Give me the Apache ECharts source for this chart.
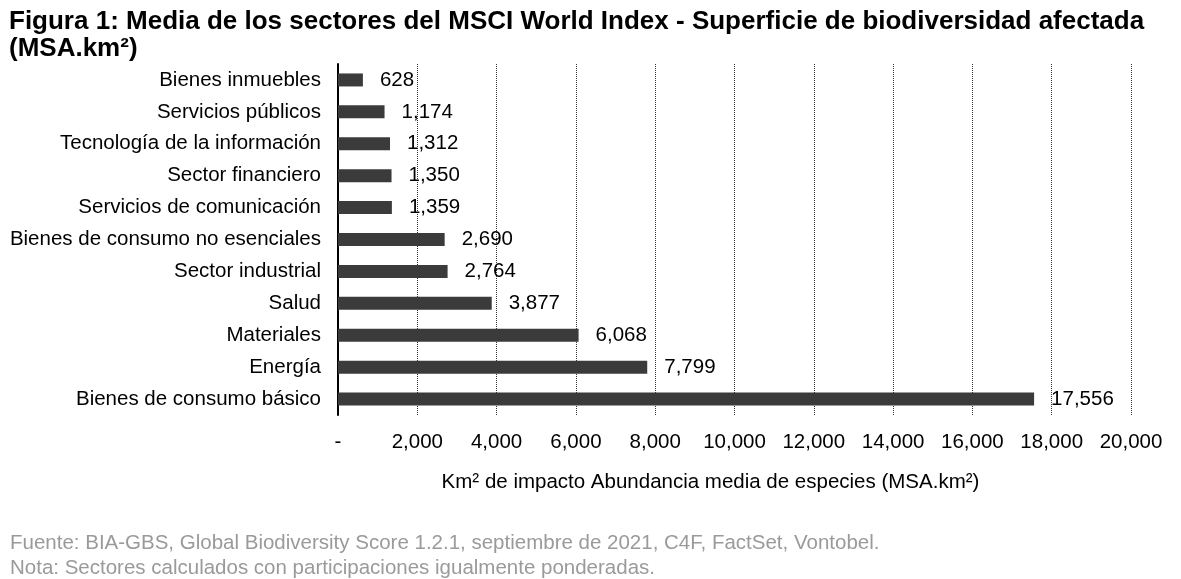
<!DOCTYPE html>
<html><head><meta charset="utf-8">
<script src="https://cdn.jsdelivr.net/npm/echarts@6/dist/echarts.min.js"></script>
<style>html,body{margin:0;padding:0;background:#fff}#c{width:1181px;height:579px}</style>
</head><body><div id="c"></div>
<script>
const categories = ["Bienes de consumo básico","Energía","Materiales","Salud","Sector industrial","Bienes de consumo no esenciales","Servicios de comunicación","Sector financiero","Tecnología de la información","Servicios públicos","Bienes inmuebles"];
const values = [17556,7799,6068,3877,2764,2690,1359,1350,1312,1174,628];
const titleText = "Figura 1: Media de los sectores del MSCI World Index - Superficie de biodiversidad afectada\n(MSA.km²)";
const axisName = "Km² de impacto Abundancia media de especies (MSA.km²)";
const footer1 = "Fuente: BIA-GBS, Global Biodiversity Score 1.2.1, septiembre de 2021, C4F, FactSet, Vontobel.";
const footer2 = "Nota: Sectores calculados con participaciones igualmente ponderadas.";
const fmt = v => v === 0 ? "-" : v.toLocaleString("en-US");
const chart = echarts.init(document.getElementById('c'), null, {renderer:'canvas'});
const F = "'Liberation Sans', Arial, sans-serif";
chart.setOption({
  animation:false,
  textStyle:{fontFamily:F},
  title:[{text:titleText,left:4,top:3,textStyle:{fontFamily:F,fontSize:26,fontWeight:'bold',color:'#000',lineHeight:27}},
         {text:footer1+"\n"+footer2,left:5,top:526,textStyle:{fontFamily:F,fontSize:20.5,fontWeight:'normal',color:'#9a9a9a',lineHeight:25}}],
  grid:{left:338,right:50,top:64,bottom:164,containLabel:false},
  xAxis:{type:'value',min:0,max:20000,interval:2000,
    axisLine:{show:false},axisTick:{show:false},
    axisLabel:{formatter:fmt,fontSize:20.5,color:'#000',margin:17,fontFamily:F},
    splitLine:{show:true,lineStyle:{color:'#333',type:[1,1],width:1}},
    name:axisName,nameLocation:'middle',nameGap:57,nameTextStyle:{fontSize:20.5,color:'#000',fontFamily:F,padding:[0,48,0,0]}},
  yAxis:{type:'category',data:categories,
    axisLine:{show:true,lineStyle:{color:'#000',width:2}},axisTick:{show:false},
    axisLabel:{fontSize:20.5,color:'#000',margin:17,fontFamily:F}},
  series:[{type:'bar',data:values,barWidth:13,itemStyle:{color:'#3b3b3b'},
    label:{show:true,position:'right',distance:17,formatter:p=>fmt(p.value),fontSize:20.5,color:'#000',fontFamily:F}}]
});
</script></body></html>
